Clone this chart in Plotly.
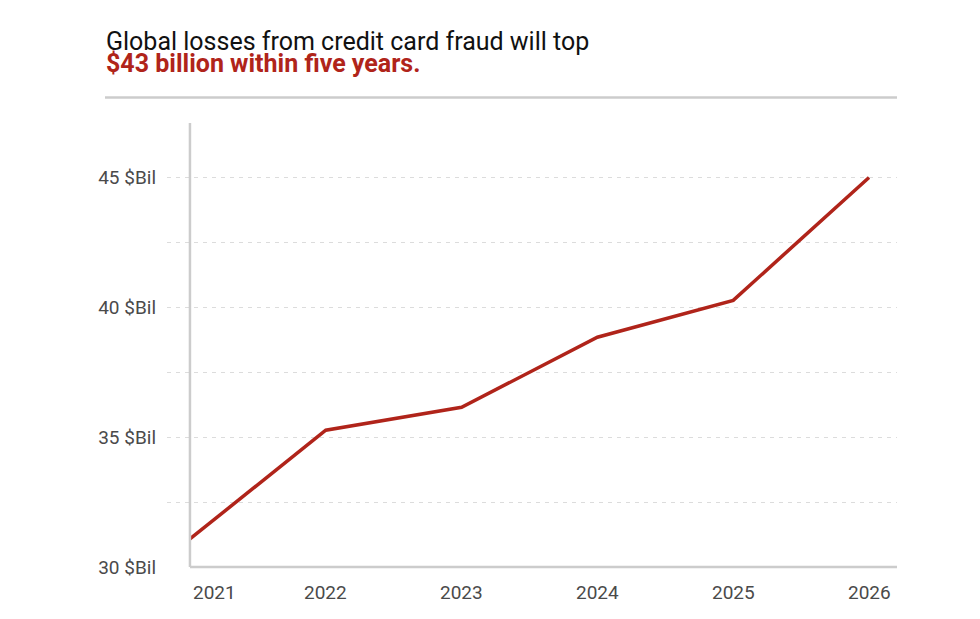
import plotly.graph_objects as go

years = [2021, 2022, 2023, 2024, 2025, 2026]
losses = [31.08, 35.27, 36.15, 38.85, 40.27, 45.0]
y_ticks = [30, 32.5, 35, 37.5, 40, 42.5, 45]
y_ticktext = ["30 $Bil", "", "35 $Bil", "", "40 $Bil", "", "45 $Bil"]
x_ticktext = ["2021", "2022", "2023", "2024", "2025", "2026"]
title_1 = "Global losses from credit card fraud will top"
title_2 = "$43 billion within five years."

RED = "#b0241a"
FONT = "Roboto"
TICK_COLOR = "#4a4a4a"

# plot area in pixels
L, R, T, B = 167, 897, 123, 567
pw, ph = R - L, B - T


def px_to_paper_x(px):
    return (px - L) / pw


def px_to_paper_y(py):
    return (B - py) / ph


fig = go.Figure()
fig.add_trace(go.Scatter(
    x=years, y=losses, mode="lines",
    line=dict(color=RED, width=3.5),
    hoverinfo="skip", showlegend=False, cliponaxis=False,
))

fig.update_layout(
    width=980, height=619,
    margin=dict(l=L, r=980 - R, t=T, b=619 - B, autoexpand=False),
    paper_bgcolor="white", plot_bgcolor="white",
    font=dict(family=FONT, color=TICK_COLOR, size=19),
    xaxis=dict(
        range=[2020.831, 2026.206],
        showgrid=False, zeroline=False, showline=False,
        showticklabels=False, ticks="",
    ),
    yaxis=dict(
        range=[30, 47.1],
        tickvals=y_ticks, ticktext=y_ticktext,
        showgrid=True, gridcolor="#dcdcdc", griddash="4px,5px", gridwidth=1,
        zeroline=False, showline=False, ticks="",
        ticklabelstandoff=10,
        tickfont=dict(family=FONT, size=19, color=TICK_COLOR),
    ),
)

# axis lines
fig.add_shape(type="line", xref="x", yref="paper", x0=years[0], x1=years[0], y0=0, y1=1,
              line=dict(color="#cccccc", width=2.5))
fig.add_shape(type="line", xref="paper", yref="paper", x0=px_to_paper_x(190), x1=1, y0=0, y1=0,
              line=dict(color="#cccccc", width=2.5))

# x tick labels
for yr, lab in zip(years, x_ticktext):
    fig.add_annotation(
        x=yr, xref="x", y=0, yref="paper", yshift=-25,
        text=lab, showarrow=False,
        xshift=25 if yr == years[0] else 0,
        font=dict(family=FONT, size=19, color=TICK_COLOR),
        xanchor="center", yanchor="middle",
    )

# titles
fig.add_annotation(
    x=px_to_paper_x(104), xref="paper", y=px_to_paper_y(41), yref="paper",
    text=title_1, showarrow=False,
    font=dict(family=FONT, size=25, color="#111"), xanchor="left", yanchor="middle",
)
fig.add_annotation(
    x=px_to_paper_x(104), xref="paper", y=px_to_paper_y(64), yref="paper",
    text="<b>" + title_2 + "</b>", showarrow=False,
    font=dict(family=FONT, size=25, color=RED), xanchor="left", yanchor="middle",
)

fig.add_shape(type="line", xref="paper", yref="paper",
              x0=px_to_paper_x(105), x1=px_to_paper_x(897),
              y0=px_to_paper_y(97.5), y1=px_to_paper_y(97.5),
              line=dict(color="#cccccc", width=2.5))

fig.write_html("out.html")
